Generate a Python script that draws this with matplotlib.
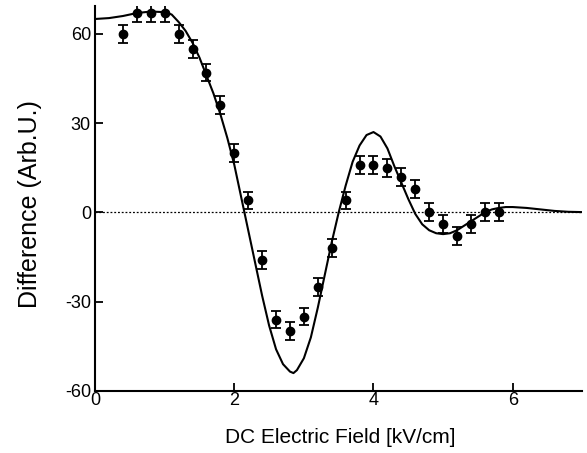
import matplotlib
matplotlib.use("Agg")
import matplotlib.pyplot as plt

plt.rcParams['font.family'] = ['Liberation Sans', 'DejaVu Sans']

# measured points
field = [0.4, 0.6, 0.8, 1.0, 1.2, 1.4, 1.6, 1.8, 2.0, 2.2, 2.4, 2.6, 2.8, 3.0,
         3.2, 3.4, 3.6, 3.8, 4.0, 4.2, 4.4, 4.6, 4.8, 5.0, 5.2, 5.4, 5.6, 5.8]
diff = [60, 67, 67, 67, 60, 55, 47, 36, 20, 4, -16, -36, -40, -35,
        -25, -12, 4, 16, 16, 15, 12, 8, 0, -4, -8, -4, 0, 0]
err = [3] * len(field)

# theory curve
curve_x = [0.0, 0.2, 0.4, 0.6, 0.8, 1.0, 1.1, 1.2, 1.3, 1.4, 1.5, 1.6, 1.7, 1.8,
           1.9, 2.0, 2.1, 2.2, 2.3, 2.4, 2.5, 2.6, 2.7, 2.8, 2.85, 2.9, 3.0, 3.1,
           3.2, 3.3, 3.4, 3.5, 3.6, 3.7, 3.8, 3.9, 4.0, 4.1, 4.2, 4.3, 4.4, 4.5,
           4.6, 4.7, 4.8, 4.9, 5.0, 5.1, 5.2, 5.3, 5.4, 5.5, 5.6, 5.7, 5.8, 5.9,
           6.0, 6.2, 6.4, 6.6, 6.8, 7.0]
curve_y = [65, 65.3, 66, 67, 67.5, 67.3, 66.5, 64, 61, 57, 52, 46, 40, 33,
           25, 16, 5, -6, -17, -28, -38, -46, -51, -53.5, -54, -53, -49, -42,
           -32, -21, -10, 0, 9, 17, 22.5, 26, 27, 25.5, 21.5, 15.5, 10, 4.5,
           -0.5, -4, -6, -7, -7.3, -7, -6, -4.5, -3, -1.5, 0, 1, 1.5, 1.8,
           1.8, 1.5, 1, 0.5, 0.2, 0.1]

fig = plt.figure(figsize=(5.87, 4.53), dpi=100)
ax = fig.add_axes([0.162, 0.137, 0.83, 0.85])

ax.plot([0, 7], [0, 0], color='black', linestyle=(0, (1.5, 1.5)), linewidth=0.9)
ax.plot(curve_x, curve_y, color='black', linewidth=1.5)
ax.errorbar(field, diff, yerr=err, fmt='o', color='black', markersize=6,
            ecolor='black', elinewidth=1.3, capsize=3.5, capthick=1.3)

ax.set_xlim(0, 7)
ax.set_ylim(-60, 69.4)
ax.set_xticks([0, 2, 4, 6])
ax.set_yticks([-60, -30, 0, 30, 60])
ax.set_yticklabels(['-60', '-30', '0', '30', '60'])
ax.spines['top'].set_visible(False)
ax.spines['right'].set_visible(False)
ax.spines['left'].set_linewidth(1.5)
ax.spines['bottom'].set_linewidth(1.5)
ax.tick_params(direction='in', length=6, width=1.3, labelsize=13)
ax.tick_params(axis='x', pad=1)
ax.tick_params(axis='y', pad=3)

ax.set_xlabel('DC Electric Field [kV/cm]', fontsize=15)
ax.set_ylabel('Difference (Arb.U.)', fontsize=18)
ax.xaxis.set_label_coords(0.503, -0.097)
ax.yaxis.set_label_coords(-0.109, 0.486)

fig.savefig('out.png', dpi=100)
